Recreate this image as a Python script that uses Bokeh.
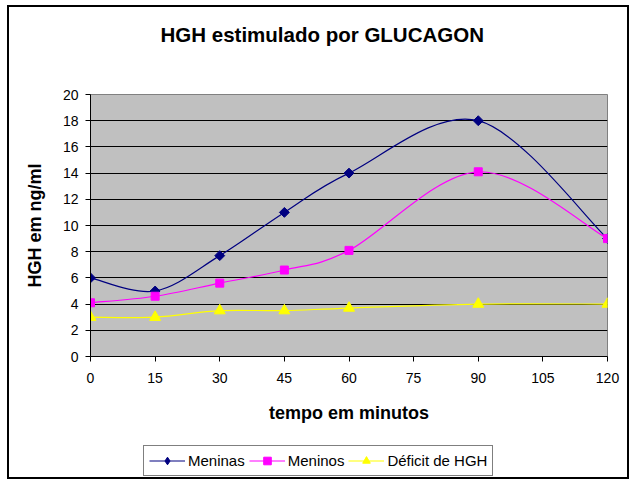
import numpy as np
from bokeh.plotting import figure
from bokeh.layouts import column
from bokeh.models import Range1d, FixedTicker, Legend, LegendItem, ColumnDataSource
from bokeh.embed import file_html
from bokeh.resources import INLINE

# ---- data ----
tempo = [0, 15, 30, 45, 60, 90, 120]
meninas = [6, 5, 7.7, 11, 14, 18, 9]
meninos = [4.1, 4.6, 5.6, 6.6, 8.1, 14.1, 9]
deficit = [3, 3, 3.5, 3.5, 3.7, 4, 4]
series_names = ["Meninas", "Meninos", "Déficit de HGH"]
x_ticks = [0, 15, 30, 45, 60, 75, 90, 105, 120]
y_ticks = [0, 2, 4, 6, 8, 10, 12, 14, 16, 18, 20]
title_text = "HGH estimulado por GLUCAGON"

FONT = "Liberation Sans"


def smooth_segments(xs, ys):
    """Catmull-Rom style Bezier control points (Excel 'smoothed line')."""
    xs = np.asarray(xs, float)
    ys = np.asarray(ys, float)
    px = np.concatenate([[xs[0]], xs, [xs[-1]]])
    py = np.concatenate([[ys[0]], ys, [ys[-1]]])
    d = dict(x0=[], y0=[], x1=[], y1=[], cx0=[], cy0=[], cx1=[], cy1=[])
    for i in range(len(xs) - 1):
        d["x0"].append(xs[i]); d["y0"].append(ys[i])
        d["x1"].append(xs[i + 1]); d["y1"].append(ys[i + 1])
        d["cx0"].append(xs[i] + (px[i + 2] - px[i]) / 6)
        d["cy0"].append(ys[i] + (py[i + 2] - py[i]) / 6)
        d["cx1"].append(xs[i + 1] - (px[i + 3] - px[i + 1]) / 6)
        d["cy1"].append(ys[i + 1] - (py[i + 3] - py[i + 1]) / 6)
    return ColumnDataSource(d)


def blank_strip(height, **kw):
    f = figure(width=618, height=height, x_range=Range1d(-1000, -999),
               y_range=Range1d(-1000, -999), output_backend="svg",
               toolbar_location=None, x_axis_location=None, y_axis_location=None, **kw)
    f.outline_line_color = None
    f.xgrid.visible = False
    f.ygrid.visible = False
    f.background_fill_color = "white"
    f.border_fill_color = "white"
    return f


# ---- title strip ----
pt = blank_strip(50, title=title_text, title_location="below",
                 min_border_top=0, min_border_bottom=37)
pt.title.text_font = FONT
pt.title.text_font_style = "bold"
pt.title.text_font_size = "20.5px"
pt.title.text_color = "#000000"
pt.title.align = "left"
pt.title.offset = 70
pt.title.standoff = 0

# ---- main chart ----
p = figure(width=618, height=380,
           x_range=Range1d(0, 120), y_range=Range1d(0, 20),
           output_backend="svg", toolbar_location=None,
           min_border_left=81, min_border_right=20,
           min_border_top=37, min_border_bottom=81)

p.background_fill_color = "#C0C0C0"
p.border_fill_color = "white"
p.outline_line_color = "#808080"
p.outline_line_width = 1
p.title.text = ""

p.xgrid.grid_line_color = None
p.ygrid.ticker = FixedTicker(ticks=y_ticks[1:-1])
p.ygrid.grid_line_color = "#000000"
p.ygrid.grid_line_width = 1

for ax in (p.xaxis[0], p.yaxis[0]):
    ax.axis_line_color = "#000000"
    ax.major_tick_line_color = "#000000"
    ax.major_tick_out = 5
    ax.major_tick_in = 0
    ax.minor_tick_line_color = None
    ax.major_label_text_font = FONT
    ax.major_label_text_font_size = "14px"
    ax.major_label_text_color = "#000000"
    ax.axis_label_text_font = FONT
    ax.axis_label_text_font_style = "bold"
    ax.axis_label_text_font_size = "18px"
    ax.axis_label_text_color = "#000000"

p.xaxis.ticker = FixedTicker(ticks=x_ticks)
p.yaxis.ticker = FixedTicker(ticks=y_ticks)
p.xaxis.axis_label = "tempo em minutos"
p.yaxis.axis_label = "HGH em ng/ml"
p.xaxis.major_label_standoff = 11
p.yaxis.major_label_standoff = 7
p.xaxis.axis_label_standoff = 17
p.yaxis.axis_label_standoff = 15

styles = [
    dict(color="#000080", marker="square", size=7, angle=np.pi / 4, leg_marker="diamond", leg_size=10),
    dict(color="#FF00FF", marker="square", size=8, angle=0, leg_marker="square", leg_size=7),
    dict(color="#FFFF00", marker="triangle", size=11, angle=0, leg_marker="triangle", leg_size=9),
]

# ---- legend strip (its data range is far off so only the legend shows) ----
pl = blank_strip(40, min_border=0)

items = []
for name, ys, st in zip(series_names, [meninas, meninos, deficit], styles):
    src = smooth_segments(tempo, ys)
    p.bezier(x0="x0", y0="y0", x1="x1", y1="y1", cx0="cx0", cy0="cy0",
             cx1="cx1", cy1="cy1", source=src,
             line_color=st["color"], line_width=1.2)
    p.scatter(tempo, ys, marker=st["marker"], size=st["size"], angle=st["angle"],
              fill_color=st["color"], line_color=st["color"])
    lr = pl.line(tempo, ys, line_color=st["color"], line_width=1.2)
    mr = pl.scatter(tempo, ys, marker=st["leg_marker"], size=st["leg_size"],
                    fill_color=st["color"], line_color=st["color"])
    items.append(LegendItem(label=name, renderers=[lr, mr]))

legend = Legend(items=items, orientation="horizontal", location=(53, 1))
legend.border_line_color = "#000000"
legend.border_line_width = 1
legend.background_fill_color = "white"
legend.background_fill_alpha = 1
legend.label_text_font = FONT
legend.label_text_font_size = "15px"
legend.label_text_color = "#000000"
legend.glyph_width = 36
legend.glyph_height = 19
legend.label_standoff = 3
legend.spacing = 4
legend.padding = 5
legend.margin = 0
pl.add_layout(legend, "center")

layout = column(pt, p, pl, spacing=0,
                styles={"border": "2px solid #000000", "box-sizing": "content-box",
                        "margin-left": "7px", "margin-top": "5px"})

open("out.html", "w").write(file_html(layout, INLINE))
